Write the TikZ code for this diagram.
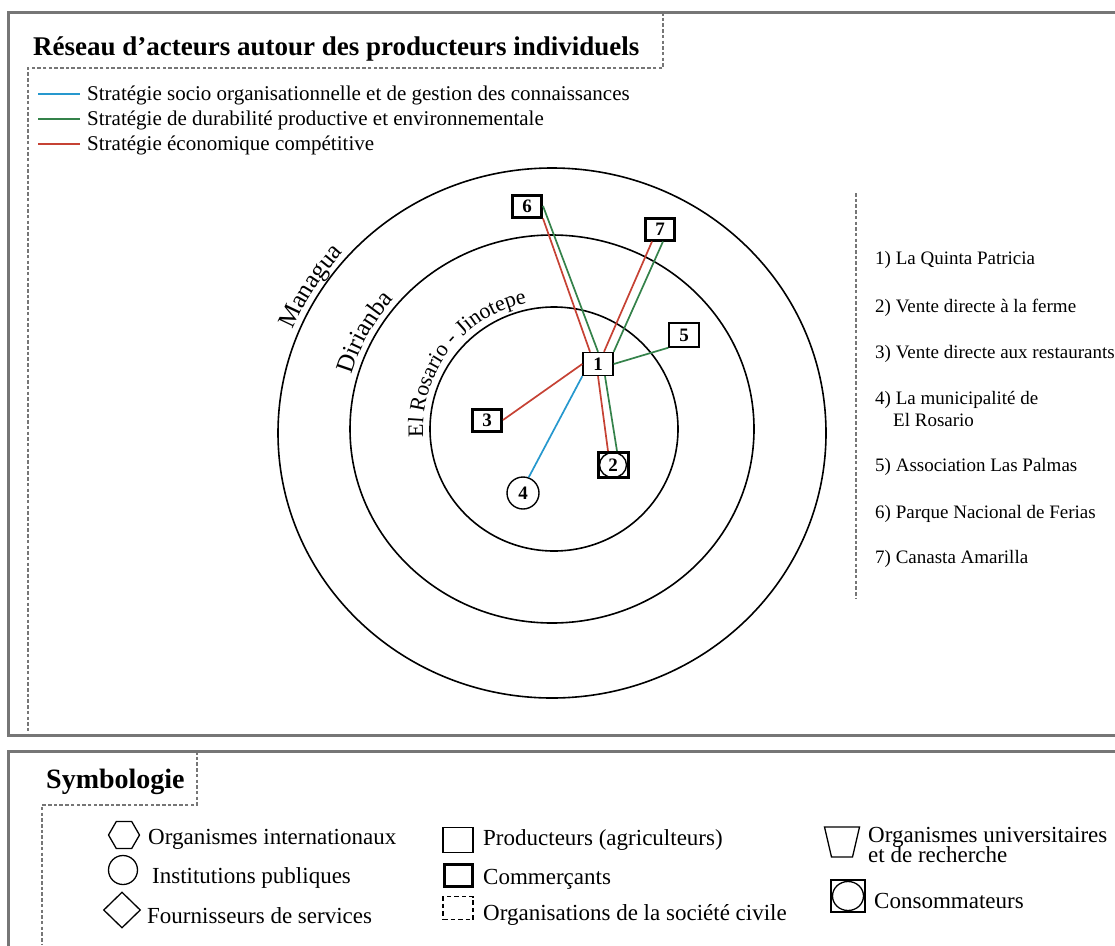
\documentclass[tikz,border=0pt]{standalone}
\usepackage{fontspec}
\setmainfont{Liberation Serif}
\usepackage{xcolor}
\usetikzlibrary{shapes.geometric, positioning, decorations.text}

\definecolor{socioblue}{RGB}{38,152,206}
\definecolor{durgreen}{RGB}{52,130,74}
\definecolor{ecored}{RGB}{198,66,52}
\definecolor{framegray}{RGB}{118,118,118}

\newcommand{\fntTitle}{\fontsize{27}{27}\selectfont\bfseries}
\newcommand{\fntStrat}{\fontsize{21}{21}\selectfont}
\newcommand{\fntList}{\fontsize{19}{19}\selectfont}
\newcommand{\fntSymb}{\fontsize{23}{21}\selectfont}
\newcommand{\fntSymbTitle}{\fontsize{28}{28}\selectfont\bfseries}
\newcommand{\fntActor}{\fontsize{19}{19}\selectfont\bfseries}
\newcommand{\fntZone}{\fontsize{25}{25}\selectfont}
\newcommand{\fntZoneIn}{\fontsize{22}{22}\selectfont}

\begin{document}
\begin{tikzpicture}[x=1pt, y=-1pt,
  frame/.style={draw=framegray, line width=3pt},
  dashline/.style={draw=framegray, line width=1.9pt, dash pattern=on 3.5pt off 2.2pt},
  ring/.style={draw, line width=1.6pt},
  link/.style={line width=1.7pt},
  zone/.style={decorate, decoration={text along path, text align=center, text={#1}}}]
\tikzstyle{actor} = [rectangle, draw, fill=white, line width=1.4pt, minimum width=30pt, minimum height=23pt, inner sep=0pt, font=\fntActor]
\tikzstyle{merchant} = [actor, line width=3pt, minimum width=29pt, minimum height=22pt]
\tikzstyle{institution} = [circle, draw, fill=white, line width=1.4pt, minimum size=32pt, inner sep=0pt, font=\fntActor]
\tikzstyle{keytext} = [anchor=base west, inner sep=0pt]
\tikzstyle{symbol} = [draw, line width=1.3pt, inner sep=0pt]
\useasboundingbox (0,0) rectangle (1115,945);
\clip (0,0) rectangle (1115,945);
\fill[white] (0,0) rectangle (1115,945);
\draw[frame] (8,12) rectangle (1130,735);
\draw[frame] (8,751) rectangle (1130,960);
\draw[dashline] (663,12) -- (663,68) -- (28,68) -- (28,735);
\draw[dashline] (197,751) -- (197,805) -- (42,805) -- (42,945);
\draw[dashline] (856,193) -- (856,598);
\node[keytext, font=\fntTitle] (title) at (33,55) {Réseau d’acteurs autour des producteurs individuels};
\foreach \col/\txt [count=\i] in {socioblue/Stratégie socio organisationnelle et de gestion des connaissances, durgreen/Stratégie de durabilité productive et environnementale, ecored/Stratégie économique compétitive}{
  \draw[link, \col] (38,69+25*\i) -- (80,69+25*\i);
  \node[keytext, font=\fntStrat] (strat\i) at (87,75+25*\i) {\txt};
}
\coordinate (outerc) at (552,433);
\coordinate (midc) at (552,429);
\coordinate (innerc) at (554,429);
\draw[ring] (outerc) ellipse[x radius=274, y radius=265];
\draw[ring] (midc) ellipse[x radius=202, y radius=194];
\draw[ring] (innerc) ellipse[x radius=124, y radius=122];
\path[zone={|\fntZone|Managua}] ([shift={(190:280 and 271)}]outerc) arc[start angle=190, end angle=234, x radius=280, y radius=271];
\path[zone={|\fntZone|Dirianba}] ([shift={(186:208 and 200)}]midc) arc[start angle=186, end angle=230, x radius=208, y radius=200];
\path[zone={|\fntZoneIn|El Rosario - Jinotepe}] ([shift={(147:131 and 129)}]innerc) arc[start angle=147, end angle=287, x radius=131, y radius=129];
\node[actor] (n1) at (598,364) {1};
\node[merchant] (n6) at (527,206) {6};
\node[merchant] (n7) at (660,229) {7};
\node[actor, minimum height=24pt] (n5) at (684,335) {5};
\node[merchant] (n3) at (487,420) {3};
\node[merchant, minimum width=30pt, minimum height=25pt] (n2) at (613,465) {2};
\draw[line width=1.4pt] (n2.center) ellipse[x radius=13.5, y radius=12.5];
\node[institution] (n4) at (523,493) {4};
\draw[link, ecored] (n6.south east) -- ([xshift=-8pt]n1.north);
\draw[link, durgreen] (n6.east) -- (n1.north);
\draw[link, ecored] (n1.south) -- ([xshift=-5pt]n2.north);
\draw[link, durgreen] ([xshift=7pt]n1.south) -- ([xshift=4pt]n2.north);
\draw[link, ecored] ([xshift=-8pt]n7.south) -- ([xshift=6pt]n1.north);
\draw[link, durgreen] ([xshift=3pt]n7.south) -- (n1.north east);
\draw[link, durgreen] (n5.south west) -- (n1.east);
\draw[link, ecored] (n3.east) -- (n1.west);
\draw[link, socioblue] (n4.70) -- (n1.south west);
\foreach \yy/\nm/\txt in {264/r1/{1) La Quinta Patricia}, 312/r2/{2) Vente directe à la ferme}, 358/r3/{3) Vente directe aux restaurants}, 404/r4/{4) La municipalité de}, 471/r5/{5) Association Las Palmas}, 518/r6/{6) Parque Nacional de Ferias}, 563/r7/{7) Canasta Amarilla}}
  \node[keytext, font=\fntList] (\nm) at (875,\yy) {\txt};
\node[keytext, font=\fntList] (r4b) at (893,426) {El Rosario};
\node[keytext, font=\fntSymbTitle] (symb) at (46,788) {Symbologie};
\node[symbol, regular polygon, regular polygon sides=6, minimum size=31pt] (hexa) at (124,835) {};
\node[keytext, font=\fntSymb] (hexatext) at (148,844) {Organismes internationaux};
\node[symbol, circle, minimum size=29pt] (circ) at (123,870) {};
\node[keytext, font=\fntSymb] (circtext) at (152,883) {Institutions publiques};
\node[symbol, diamond, minimum width=37pt, minimum height=36pt] (diam) at (122,910) {};
\node[keytext, font=\fntSymb] (diamtext) at (147,923) {Fournisseurs de services};
\node[symbol, minimum width=30pt, minimum height=25pt] (prod) at (458,840) {};
\node[keytext, font=\fntSymb] (prodtext) at (483,845) {Producteurs (agriculteurs)};
\node[symbol, line width=3pt, minimum width=28pt, minimum height=22pt] (comm) at (458,875) {};
\node[keytext, font=\fntSymb] (commtext) at (483,884) {Commerçants};
\node[symbol, line width=1.3pt, dash pattern=on 4.5pt off 3pt, minimum width=30pt, minimum height=23pt] (civil) at (458,908) {};
\node[keytext, font=\fntSymb] (civiltext) at (483,920) {Organisations de la société civile};
\coordinate (univ) at (842,842);
\draw[line width=1.3pt] ([shift={(-17.5,-15)}]univ) -- ([shift={(17.5,-15)}]univ) -- ([shift={(10.5,15)}]univ) -- ([shift={(-10.5,15)}]univ) -- cycle;
\node[keytext, font=\fntSymb] (univtext) at (868,842) {Organismes universitaires};
\node[keytext, font=\fntSymb] (univtextb) at (868,862) {et de recherche};
\node[symbol, minimum width=34pt, minimum height=32pt] (cons) at (848,896) {};
\draw[line width=1.3pt] (cons.center) ellipse[x radius=15.5, y radius=14.5];
\node[keytext, font=\fntSymb] (constext) at (874,908) {Consommateurs};
\end{tikzpicture}
\end{document}
